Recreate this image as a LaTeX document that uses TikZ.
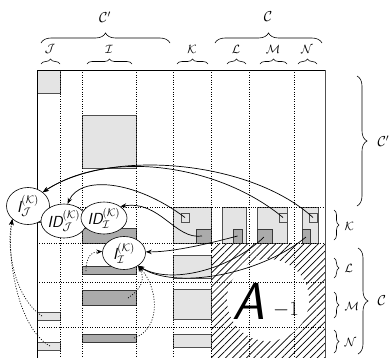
\documentclass[tikz,border=0pt]{standalone}
\usetikzlibrary{shapes.geometric,patterns,patterns.meta,decorations.pathreplacing,arrows.meta}
\definecolor{lgray}{HTML}{E4E4E4}
\definecolor{dgray}{HTML}{ABABAB}
\definecolor{bord}{HTML}{505050}
\begin{document}
\begin{tikzpicture}[x=1pt,y=-1pt,
  lbox/.style={fill=lgray,draw=bord,line width=0.6pt},
  dbox/.style={fill=dgray,draw=bord!70!black,line width=0.6pt},
  gridline/.style={line width=0.6pt,dash pattern=on 0.8pt off 1.6pt},
  ell/.style={ellipse,draw,fill=white,line width=0.6pt,inner sep=0pt,font=\fontsize{16}{16}\selectfont\sffamily\slshape},
  arr/.style={line width=0.7pt,-{Stealth[length=6pt,width=4.5pt]}},
  darr/.style={arr,dash pattern=on 1pt off 1.6pt},
  brc/.style={decorate,decoration={brace,amplitude=#1},line width=0.6pt},
  lab/.style={font=\fontsize{13}{13}\selectfont},
  biglab/.style={font=\fontsize{14}{14}\selectfont},
]
\path[use as bounding box] (0,0) rectangle (391,357);
\clip (0,0) rectangle (391,357);

% hatched block and white disc
\fill[pattern={Lines[angle=45,distance=5pt,line width=0.7pt]}] (211,243) rectangle (325,362);
\fill[white] (268,300) circle (41pt);

% gray blocks
\draw[lbox] (37,70) rectangle (60,93);
\draw[lbox] (82,115) rectangle (136,168);
\draw[dbox] (37,208) rectangle (60,222);
\draw[dbox] (82,228) rectangle (136,243);
% K row
\draw[lbox] (173,207) rectangle (211,243);
\draw[lbox] (181,213) rectangle (189,222);
\draw[dbox] (196,229) rectangle (211,243);
\draw[lbox] (222,207) rectangle (246,243);
\draw[dbox] (233,229) rectangle (242,243);
\draw[lbox] (257,207) rectangle (287,243);
\draw[lbox] (279,213) rectangle (287,222);
\draw[dbox] (257,229) rectangle (272,243);
\draw[lbox] (302,207) rectangle (318,243);
\draw[lbox] (309,213) rectangle (317,222);
\draw[dbox] (302,229) rectangle (310,243);
% L row
\draw[dbox] (82,266) rectangle (136,274);
\draw[lbox] (173,255) rectangle (211,278);
% M row
\draw[dbox] (82,290) rectangle (136,305);
\draw[lbox] (173,289) rectangle (211,319);
\draw[lbox] (37,312) rectangle (60,320);
% N row
\draw[dbox] (82,334) rectangle (136,342);
\draw[lbox] (173,334) rectangle (211,347);
\draw[lbox] (37,342) rectangle (60,350);

% dotted grid
\foreach \xx in {60,82,136,173,211,249,294}
  \draw[gridline] (\xx,70) -- (\xx,362);
\foreach \yy in {207,243,282,327}
  \draw[gridline] (37,\yy) -- (325,\yy);

% matrix border
\draw[line width=0.7pt] (37,362) -- (37,70) -- (325,70);
\draw[line width=1pt,bord] (325,70) -- (325,362);

% A_{-1}
\node[anchor=base west,inner sep=0pt,font=\fontsize{52}{52}\selectfont\sffamily\slshape] (A) at (232,319) {A};
\node[anchor=base west,inner sep=0pt,font=\fontsize{20}{20}\selectfont] (Am) at (273,315) {$-1$};

% top braces
\draw[brc=10pt] (41,43) -- (170,43);
\draw[brc=10pt] (215,43) -- (322,43);
\node[biglab] (lCp) at (105,17) {$\mathcal{C}'$};
\node[biglab] (lC) at (268,17) {$\mathcal{C}$};
\draw[brc=5pt] (41,64) -- (60,64);
\draw[brc=5pt] (87,64) -- (132,64);
\draw[brc=5pt] (177,64) -- (208,64);
\draw[brc=5pt] (227,64) -- (246,64);
\draw[brc=5pt] (260,64) -- (287,64);
\draw[brc=5pt] (298,64) -- (317,64);
\node[lab] (tJ) at (50,49) {$\mathcal{J}$};
\node[lab] (tI) at (109,49) {$\mathcal{I}$};
\node[lab] (tK) at (192,49) {$\mathcal{K}$};
\node[lab] (tL) at (236,49) {$\mathcal{L}$};
\node[lab] (tM) at (273,49) {$\mathcal{M}$};
\node[lab] (tN) at (307,49) {$\mathcal{N}$};

% right braces
\draw[brc=10pt] (357,76) -- (357,206);
\node[biglab,anchor=west] (rCp) at (374,141) {$\mathcal{C}'$};
\draw[brc=5pt] (334,210) -- (334,240);
\draw[brc=5pt] (334,258) -- (334,278);
\draw[brc=5pt] (334,292) -- (334,318);
\draw[brc=5pt] (334,330) -- (334,353);
\node[lab,anchor=west] (rK) at (341,226) {$\mathcal{K}$};
\node[lab,anchor=west] (rL) at (341,268) {$\mathcal{L}$};
\node[lab,anchor=west] (rM) at (341,306) {$\mathcal{M}$};
\node[lab,anchor=west] (rN) at (341,342) {$\mathcal{N}$};
\draw[brc=10pt] (358,248) -- (358,354);
\node[biglab,anchor=west] (rC) at (374,301) {$\mathcal{C}$};

% ellipses
\node[ell,minimum width=43pt,minimum height=37pt] (IJ) at (28,206) {I$^{(\mathcal{K})}_{\mathcal{J}}$};
\node[ell,minimum width=42pt,minimum height=34pt] (IDJ) at (64,221) {ID$^{(\mathcal{K})}_{\mathcal{J}}$};
\node[ell,minimum width=44pt,minimum height=32pt] (IDI) at (104,218) {ID$^{(\mathcal{K})}_{\mathcal{I}}$};
\node[ell,minimum width=43pt,minimum height=33pt] (II) at (124,253) {I$^{(\mathcal{K})}_{\mathcal{I}}$};

% source points
\coordinate (sqK) at (185,217.5);
\coordinate (sqM) at (283,217.5);
\coordinate (sqN) at (313,217.5);
\coordinate (dK) at (202,236);
\coordinate (dL) at (237.5,236);
\coordinate (dM) at (264,237);
\coordinate (dN) at (306,237);
\coordinate (bL) at (86,271);
\coordinate (bM) at (128,298);
\coordinate (bN) at (134,338);
\coordinate (jM) at (42,316);
\coordinate (jN) at (50,346);

% solid arrows
\draw[arr] (sqN) .. controls (250,160) and (110,148) .. (IJ.43);
\draw[arr] (sqM) .. controls (220,165) and (110,148) .. (IJ.43);
\draw[arr] (sqK) .. controls (135,180) and (80,175) .. (IDJ.78);
\draw[arr] (dK) .. controls (175,240) and (160,200) .. (IDI.35);
\draw[arr] (dL) .. controls (200,246) and (170,252) .. (II.3);
\draw[arr] (dM) .. controls (230,270) and (170,285) .. (II.-42);
\draw[arr] (dN) .. controls (260,275) and (175,290) .. (II.-42);

% dotted arrows
\draw[darr] (bL) .. controls (86,256) and (92,252) .. (II.176);
\draw[darr] (bM) .. controls (140,290) and (146,280) .. (II.-42);
\draw[darr] (bN) .. controls (160,330) and (160,290) .. (II.-42);
\draw[darr] (jM) .. controls (15,298) and (6,250) .. (IJ.-140);
\draw[darr] (jN) .. controls (20,330) and (6,262) .. (IJ.-140);
\end{tikzpicture}
\end{document}
